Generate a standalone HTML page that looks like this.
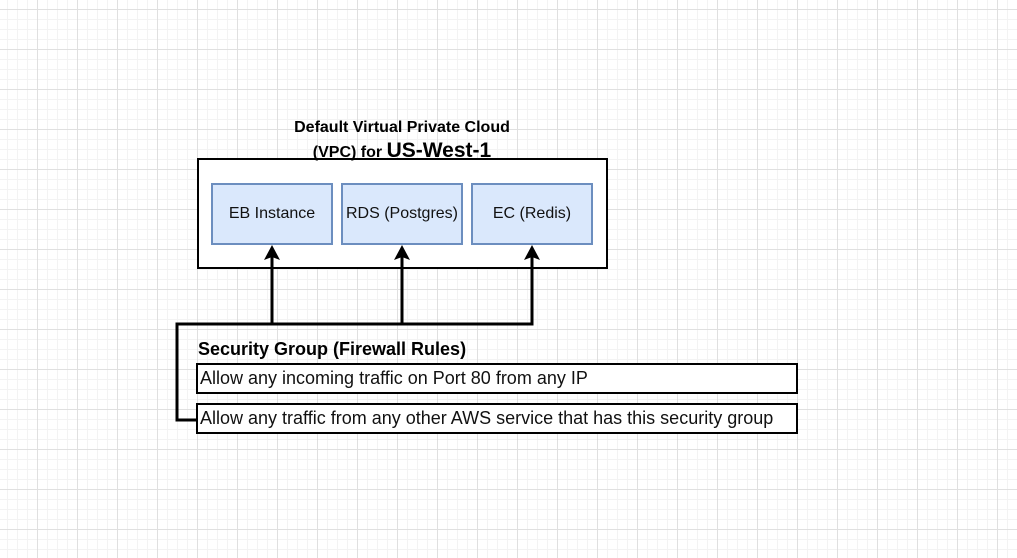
<!DOCTYPE html>
<html><head><meta charset="utf-8"><style>
html,body{margin:0;padding:0}
body{width:1017px;height:558px;position:relative;overflow:hidden;background-color:#fff;
background-image:
linear-gradient(to right,#e0e0e0 1px,transparent 1px),
linear-gradient(to bottom,#e0e0e0 1px,transparent 1px),
linear-gradient(to right,#f3f3f3 1px,transparent 1px),
linear-gradient(to bottom,#f3f3f3 1px,transparent 1px);
background-size:40px 40px,40px 40px,10px 10px,10px 10px;
background-position:37px 9px,37px 9px,7px 9px,7px 9px;
font-family:"Liberation Sans",Arial,sans-serif}
.a{position:absolute;box-sizing:border-box}
.svc{background:#dae8fc;border:2px solid #6c8ebf;display:flex;align-items:center;justify-content:center;font-size:16px;color:#111}
.rule{background:#fff;border:2px solid #000;font-size:18px;color:#111;padding-left:2px;line-height:26px;white-space:nowrap}
</style></head><body>
<div class="a" style="left:197px;top:158px;width:411px;height:111px;border:2px solid #000;background:#fff"></div>
<div class="a" style="left:252px;top:116px;width:300px;text-align:center;font-weight:bold;font-size:16px;line-height:23px;color:#000">Default Virtual Private Cloud<br>(VPC) for <span style="font-size:21px">US-West-1</span></div>
<div class="a svc" style="left:211px;top:183px;width:122px;height:62px">EB Instance</div>
<div class="a svc" style="left:341px;top:183px;width:122px;height:62px">RDS (Postgres)</div>
<div class="a svc" style="left:471px;top:183px;width:122px;height:62px">EC (Redis)</div>
<svg class="a" style="left:0;top:0" width="1017" height="558">
<g stroke="#000" stroke-width="3" fill="none">
<path d="M272 324V256M402 324V256M532 324V256M533.5 324H177V420H197"/>
</g>
<g fill="#000">
<path d="M272 245l-8 15l8-3l8 3z"/>
<path d="M402 245l-8 15l8-3l8 3z"/>
<path d="M532 245l-8 15l8-3l8 3z"/>
</g>
</svg>
<div class="a" style="left:198px;top:339px;font-weight:bold;font-size:18px;color:#000">Security Group (Firewall Rules)</div>
<div class="a rule" style="left:196px;top:363px;width:602px;height:31px">Allow any incoming traffic on Port 80 from any IP</div>
<div class="a rule" style="left:196px;top:403px;width:602px;height:31px">Allow any traffic from any other AWS service that has this security group</div>
</body></html>
